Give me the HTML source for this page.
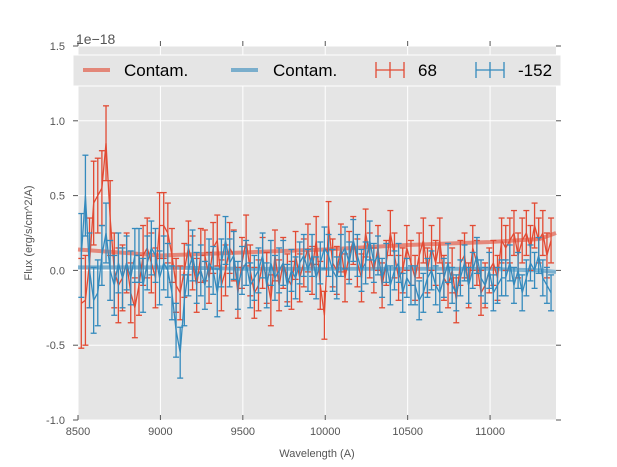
<!DOCTYPE html>
<html><head><meta charset="utf-8"><style>
body{margin:0;background:#fff;}
svg{display:block;font-family:"Liberation Sans",sans-serif;}
</style></head><body>
<svg id="chart" width="617" height="467">
<rect x="78" y="46" width="478" height="374" fill="#E5E5E5"/>
<g id="grid"></g><g id="axes"></g><g id="series"></g>
<text x="76" y="44" font-size="14" fill="#555">1e−18</text>
<text x="317" y="457" font-size="11" fill="#555" text-anchor="middle">Wavelength (A)</text>
<text transform="translate(32,233) rotate(-90)" font-size="11" fill="#555" text-anchor="middle">Flux (erg/s/cm^2/A)</text>
<g>
<rect x="73" y="55" width="488" height="31" fill="#E5E5E5" stroke="#fff" stroke-width="1"/>
<g>
<line x1="83" y1="70" x2="110" y2="70" stroke="#E24A33" stroke-width="4" opacity="0.6"/>
<text x="124" y="76" font-size="17" fill="#000">Contam.</text></g>
<g>
<line x1="231" y1="70" x2="258" y2="70" stroke="#348ABD" stroke-width="4" opacity="0.6"/>
<text x="273" y="76" font-size="17" fill="#000">Contam.</text></g>
<g stroke="#E24A33" stroke-width="1.3">
<line x1="376" y1="70" x2="404" y2="70"/><line x1="376" y1="62" x2="376" y2="78"/><line x1="404" y1="62" x2="404" y2="78"/><line x1="390" y1="62" x2="390" y2="78"/>
<text x="418" y="76" font-size="17" fill="#000" stroke="none">68</text></g>
<g stroke="#348ABD" stroke-width="1.3">
<line x1="476" y1="70" x2="504" y2="70"/><line x1="476" y1="62" x2="476" y2="78"/><line x1="504" y1="62" x2="504" y2="78"/><line x1="490" y1="62" x2="490" y2="78"/>
<text x="518" y="76" font-size="17" fill="#000" stroke="none">-152</text></g>
</g>
</svg>
<script>
const xTicks=[8500,9000,9500,10000,10500,11000];
const yTicks=[-1.0,-0.5,0.0,0.5,1.0,1.5];
const wlStart=8520, wlStep=25;
const red68=[-0.22,-0.2,0.05,0.45,0.5,0.55,0.85,0.35,0.0,-0.1,
-0.05,0.05,-0.15,-0.25,-0.1,0.1,0.15,0.05,-0.05,0.3,
0.3,0.25,0.1,-0.1,-0.15,0.0,0.15,0.05,-0.1,0.1,
0.1,-0.05,0.15,0.2,-0.1,0.0,0.15,0.1,-0.15,0.05,
0.2,0.0,-0.15,-0.1,0.05,-0.05,-0.2,0.1,-0.1,0.05,
-0.05,-0.1,0.1,-0.05,0.05,0.15,0.0,0.2,-0.1,-0.3,
0.3,0.05,0.0,0.15,-0.05,0.1,0.2,0.05,-0.05,0.25,
0.1,0.0,0.15,-0.1,0.05,0.25,0.1,-0.05,0.0,0.15,
0.05,-0.05,0.1,0.2,0.0,0.15,0.05,0.2,-0.05,-0.1,
0.0,-0.2,0.05,0.1,-0.1,0.15,0.05,-0.15,-0.1,0.0,
0.05,-0.05,0.2,0.15,0.2,0.25,0.1,0.2,0.25,0.15,
0.3,0.2,0.25,0.1,0.2];
const redErr=[0.3,0.3,0.3,0.28,0.25,0.25,0.25,0.25,0.25,0.25,
0.22,0.2,0.2,0.2,0.2,0.2,0.2,0.2,0.2,0.22,
0.22,0.2,0.18,0.18,0.18,0.18,0.18,0.18,0.18,0.18,
0.17,0.17,0.17,0.17,0.17,0.17,0.17,0.17,0.17,0.17,
0.17,0.17,0.17,0.17,0.17,0.17,0.17,0.17,0.17,0.17,
0.16,0.16,0.16,0.16,0.16,0.16,0.16,0.16,0.16,0.16,
0.16,0.16,0.16,0.16,0.16,0.16,0.16,0.16,0.16,0.16,
0.15,0.15,0.15,0.15,0.15,0.15,0.15,0.15,0.15,0.15,
0.15,0.15,0.15,0.15,0.15,0.15,0.15,0.15,0.15,0.15,
0.15,0.15,0.15,0.15,0.15,0.15,0.15,0.15,0.15,0.15,
0.15,0.15,0.15,0.15,0.15,0.15,0.15,0.15,0.15,0.15,
0.15,0.15,0.15,0.15,0.15];
const blue152=[0.1,0.5,0.0,-0.2,-0.15,0.1,0.25,0.0,-0.1,0.05,
-0.05,0.05,-0.05,0.1,0.1,-0.1,0.05,0.15,0.1,-0.05,
0.05,0.0,-0.15,-0.4,-0.55,-0.2,0.0,0.1,-0.05,0.0,
-0.1,0.05,0.0,-0.15,0.05,0.2,0.05,0.1,-0.1,0.0,
0.05,-0.1,-0.05,0.0,0.1,-0.1,0.05,-0.05,0.0,0.05,
-0.1,0.0,-0.05,0.05,0.1,0.0,0.1,-0.05,0.05,0.15,
0.1,0.0,-0.05,0.1,0.15,0.05,0.2,0.1,0.0,0.05,
0.2,0.05,0.1,-0.05,0.05,-0.1,0.0,0.05,-0.15,-0.05,
-0.1,-0.1,-0.2,-0.15,-0.05,0.0,-0.1,-0.15,-0.05,0.05,
-0.1,-0.15,-0.05,0.05,-0.1,0.0,0.1,-0.05,-0.1,0.0,
-0.15,-0.1,-0.05,-0.05,0.05,-0.1,0.0,-0.15,-0.05,0.05,
0.0,0.1,-0.05,-0.1,-0.15];
const blueErr=[0.28,0.27,0.25,0.22,0.22,0.2,0.2,0.2,0.2,0.2,
0.2,0.18,0.18,0.18,0.18,0.18,0.18,0.18,0.18,0.18,
0.18,0.18,0.18,0.18,0.17,0.17,0.17,0.17,0.17,0.17,
0.16,0.16,0.16,0.16,0.16,0.16,0.16,0.16,0.16,0.16,
0.15,0.15,0.15,0.15,0.15,0.15,0.15,0.15,0.15,0.15,
0.14,0.14,0.14,0.14,0.14,0.14,0.14,0.14,0.14,0.14,
0.14,0.14,0.14,0.14,0.14,0.14,0.14,0.14,0.14,0.14,
0.13,0.13,0.13,0.13,0.13,0.13,0.13,0.13,0.13,0.13,
0.13,0.13,0.13,0.13,0.13,0.13,0.13,0.13,0.13,0.13,
0.12,0.12,0.12,0.12,0.12,0.12,0.12,0.12,0.12,0.12,
0.12,0.12,0.12,0.12,0.12,0.12,0.12,0.12,0.12,0.12,
0.12,0.12,0.12,0.12,0.12];
const contamWl=[8500,9000,9500,10000,10500,11000,11300,11400];
const contamRed=[0.14,0.10,0.12,0.14,0.17,0.19,0.21,0.25];
const contamBlue=[0.02,0.02,0.01,0.01,0.01,0.01,0.0,-0.01];

const NS="http://www.w3.org/2000/svg";
const X0=78,X1=556,Y0=420,Y1=46,xmin=8500,xmax=11400,ymin=-1,ymax=1.5;
const xs=v=>X0+(v-xmin)/(xmax-xmin)*(X1-X0);
const ys=v=>Y0-(v-ymin)/(ymax-ymin)*(Y0-Y1);
function mk(tag,attrs,parent){const e=document.createElementNS(NS,tag);for(const k in attrs)e.setAttribute(k,attrs[k]);parent.appendChild(e);return e;}
const grid=document.getElementById('grid'),axes=document.getElementById('axes'),ser=document.getElementById('series');
xTicks.forEach(t=>{
  const g=mk('line',{x1:xs(t),x2:xs(t),y1:Y1,y2:Y0,stroke:'#fff','stroke-width':1},grid);
  
  
  mk('line',{x1:xs(t),x2:xs(t),y1:Y0,y2:Y0-5,stroke:'#555'},axes);
  mk('line',{x1:xs(t),x2:xs(t),y1:Y1,y2:Y1-5,stroke:'#555'},axes);
  const tx=mk('text',{x:xs(t),y:Y0+15,'font-size':11,fill:'#555','text-anchor':'middle'},axes);
  tx.textContent=t;
  
  
});
yTicks.forEach(t=>{
  const g=mk('line',{x1:X0,x2:X1,y1:ys(t),y2:ys(t),stroke:'#fff','stroke-width':1},grid);
  
  
  mk('line',{x1:X0-5,x2:X0,y1:ys(t),y2:ys(t),stroke:'#555'},axes);
  mk('line',{x1:X1,x2:X1+5,y1:ys(t),y2:ys(t),stroke:'#555'},axes);
  const tx=mk('text',{x:X0-13,y:ys(t)+4,'font-size':11,fill:'#555','text-anchor':'end'},axes);
  tx.textContent=t.toFixed(1);
  
  
});
function contam(vals,color,name){
  const p=mk('polyline',{points:contamWl.map((w,i)=>xs(w)+','+ys(vals[i])).join(' '),fill:'none',stroke:color,'stroke-width':4,opacity:0.6},ser);
  
  
}
function errs(vals,err,color,name){
  const g=mk('g',{stroke:color,'stroke-width':1.3,fill:'none'},ser);
  
  
  vals.forEach((v,i)=>{
    const x=xs(wlStart+i*wlStep),a=ys(v+err[i]),b=ys(v-err[i]);
    mk('line',{x1:x,x2:x,y1:a,y2:b},g);
    mk('line',{x1:x-3,x2:x+3,y1:a,y2:a},g);
    mk('line',{x1:x-3,x2:x+3,y1:b,y2:b},g);
  });
  const p=mk('polyline',{points:vals.map((v,i)=>xs(wlStart+i*wlStep)+','+ys(v)).join(' ')},g);
}
contam(contamRed,'#E24A33','contam-line-red');
contam(contamBlue,'#348ABD','contam-line-blue');
errs(red68,redErr,'#E24A33','series-68');
errs(blue152,blueErr,'#348ABD','series-minus152');
</script>
</body></html>
